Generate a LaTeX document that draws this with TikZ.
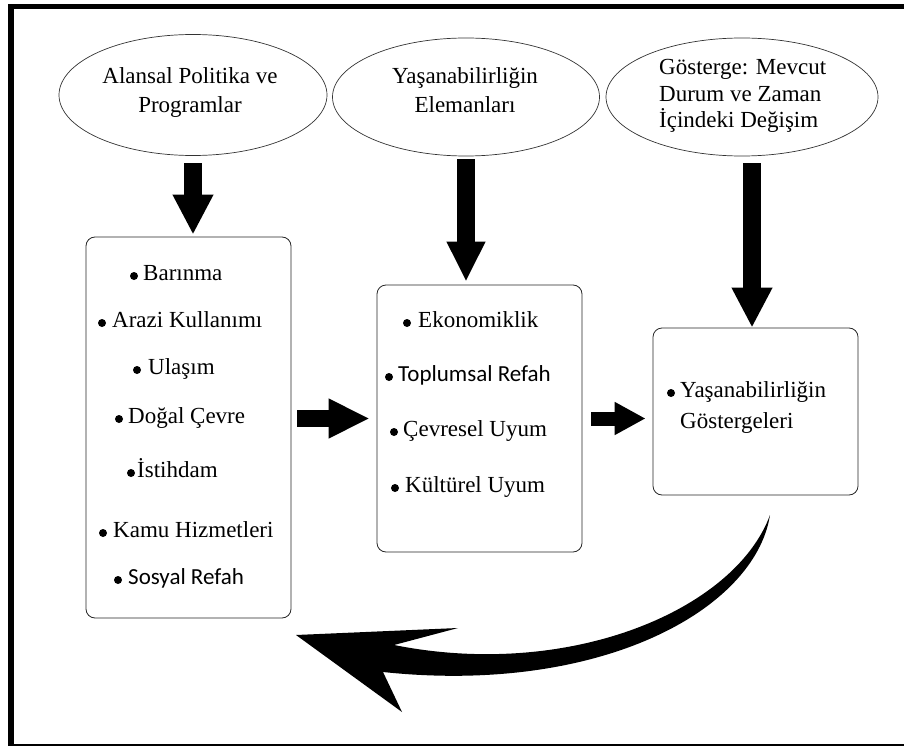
\documentclass[tikz,border=0pt]{standalone}
\usepackage{fontspec}
\setmainfont{Liberation Serif}
\setsansfont{Carlito}
\usetikzlibrary{shapes.geometric,arrows.meta}
\tikzset{>=Stealth}
\tikzset{
  oval/.style={ellipse,draw=black!80,line width=0.7pt,inner sep=0pt},
  panel/.style={rectangle,draw=black!85,line width=0.8pt,rounded corners=9pt,inner sep=0pt},
  ovaltext/.style={inner sep=0pt,font=\fontsize{23}{29}\selectfont},
  entry/.style={anchor=base west,inner sep=0pt,font=\fontsize{23}{29}\selectfont},
  bigarrow/.style={line width=18pt,-{Triangle[length=40pt,width=38pt]}}
}

\begin{document}
\begin{tikzpicture}[x=1pt,y=-1pt]
  \useasboundingbox (0,0) rectangle (904,746);
  \fill (8,4) rectangle (904,9);
  \fill (8,4) rectangle (14,746);
  \fill (8,744) rectangle (904,746);

  \node[oval,minimum width=268pt,minimum height=121pt] (pol) at (193,95) {};
  \node[oval,minimum width=267pt,minimum height=118pt] (yas) at (466,97) {};
  \node[oval,minimum width=272pt,minimum height=118pt] (gos) at (742,97) {};

  \node[ovaltext,align=center] (polt) at (190,92.2) {Alansal Politika ve\\Programlar};
  \node[ovaltext,align=center] (yast) at (465,90.2) {Yaşanabilirliğin\\Elemanları};
  \node[ovaltext,align=left,anchor=west,font=\fontsize{23}{26.5}\selectfont] (gost) at (659,96.3)
    {Gösterge: Mevcut\\Durum ve Zaman\\İçindeki Değişim};

  \node[panel,minimum width=205pt,minimum height=381pt] (plan) at (188.5,427.5) {};
  \node[panel,minimum width=205pt,minimum height=267pt] (elem) at (479.5,418.5) {};
  \node[panel,minimum width=205pt,minimum height=167pt] (ind) at (755.5,411.5) {};

  \foreach \n/\bx/\tx/\ty/\txt in {1/134/143/280/Barınma, 2/102/112/327/Arazi Kullanımı,
      3/137/148/374/Ulaşım, 4/119/128/423/Doğal Çevre, 5/131/137/477/İstihdam,
      6/103/113/537/Kamu Hizmetleri, 7/118/128/584/\sffamily Sosyal Refah}{
    \node[entry] (p\n) at (\tx,\ty) {\txt};
    \fill (\bx,\ty-4) circle (4pt);
  }

  \foreach \n/\bx/\tx/\ty/\txt in {1/407/418/327/Ekonomiklik, 2/389/398/381/\sffamily Toplumsal Refah,
      3/394/403/436/Çevresel Uyum, 4/395/405/492/Kültürel Uyum}{
    \node[entry] (e\n) at (\tx,\ty) {\txt};
    \fill (\bx,\ty-4) circle (4pt);
  }

  \node[entry] (i1) at (680,397) {Yaşanabilirliğin};
  \node[entry] (i2) at (680,428) {Göstergeleri};
  \fill (671,393) circle (4pt);

  \coordinate (down) at ([xshift=-3.5pt]ind.north);
  \draw[bigarrow,shorten <=7.5pt,shorten >=2pt] (pol.south) -- (pol.south |- plan.north);
  \draw[bigarrow,-{Triangle[length=40pt,width=36pt]},shorten <=3pt,shorten >=3pt] (yas.south) -- (yas.south |- elem.north);
  \draw[bigarrow,shorten <=7pt] (down |- gos.south) -- (down);
  \draw[bigarrow,line width=17pt,-{Triangle[length=41pt,width=37pt]},shorten <=6pt,shorten >=7pt]
    (plan.east |- elem.west) -- (elem.west);
  \draw[bigarrow,line width=14pt,-{Triangle[length=31pt,width=31pt]},shorten <=9pt,shorten >=7pt]
    (elem.east) -- (elem.east -| ind.west);

  \coordinate (tail) at (770,515);
  \coordinate (head) at (296,635);
  \fill (tail) .. controls (735,610) and (570,680) .. (394,645) -- (458,628) -- (head)
    -- (402,712) -- (383,672) .. controls (600,695) and (755,610) .. (tail) -- cycle;
\end{tikzpicture}
\end{document}
